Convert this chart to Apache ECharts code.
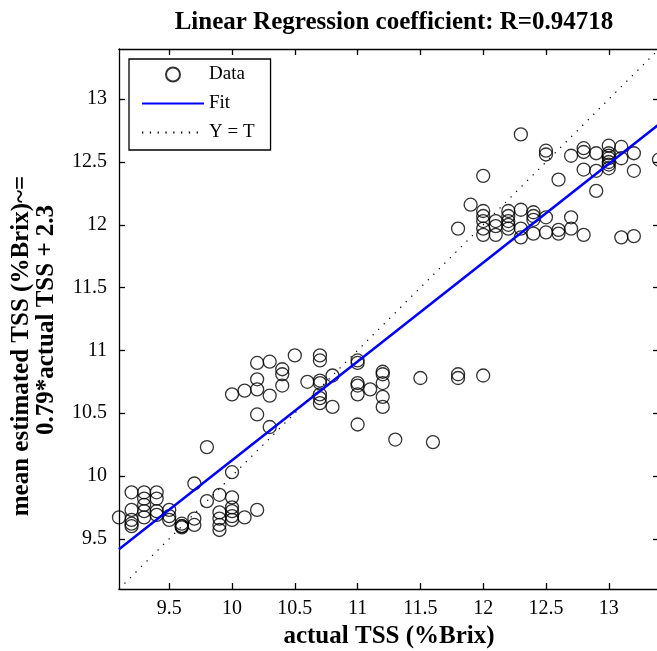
<!DOCTYPE html>
<html><head><meta charset="utf-8">
<script src="https://cdn.jsdelivr.net/npm/echarts@6/dist/echarts.min.js"></script>
<style>html,body{margin:0;padding:0;background:#fff}#c{width:657px;height:651px}</style>
</head><body><div id="c"></div>
<script>
// ---- data ----
const dataX = [
  9.1,
  9.2, 9.2, 9.2, 9.2, 9.2,
  9.3, 9.3, 9.3, 9.3, 9.3,
  9.4, 9.4, 9.4, 9.4,
  9.5, 9.5, 9.5,
  9.6, 9.6, 9.6, 9.6,
  9.7, 9.7, 9.7,
  9.8, 9.8,
  9.9, 9.9, 9.9, 9.9, 9.9,
  10.0, 10.0, 10.0, 10.0, 10.0, 10.0,
  10.1, 10.2,
  10.0, 10.1,
  10.2, 10.2, 10.2, 10.2,
  10.3, 10.3, 10.3,
  10.4, 10.4, 10.4,
  10.5, 10.6,
  10.7, 10.7, 10.7, 10.7, 10.7, 10.7, 10.7,
  10.8, 10.8,
  11.0, 11.0, 11.0, 11.0, 11.0, 11.0,
  11.1,
  11.2, 11.2, 11.2, 11.2, 11.2,
  11.3, 11.5, 11.6, 11.8, 11.8, 12.0,
  11.8, 11.9,
  12.0, 12.0, 12.0, 12.0, 12.0, 12.0,
  12.1, 12.1, 12.1,
  12.2, 12.2, 12.2, 12.2, 12.2,
  12.3, 12.3, 12.3, 12.3,
  12.4, 12.4, 12.4, 12.4,
  12.5, 12.5, 12.5, 12.5,
  12.6, 12.6, 12.6,
  12.7, 12.7, 12.7,
  12.8, 12.8, 12.8, 12.8,
  12.9, 12.9, 12.9,
  13.0, 13.0, 13.0, 13.0, 13.0, 13.0, 13.0,
  13.1, 13.1, 13.1,
  13.2, 13.2, 13.2,
  13.4
];
const dataY = [
  9.67,
  9.87, 9.73, 9.65, 9.62, 9.60,
  9.87, 9.82, 9.77, 9.72, 9.67,
  9.87, 9.82, 9.72, 9.69,
  9.73, 9.68, 9.65,
  9.62, 9.60, 9.59, 9.60,
  9.94, 9.66, 9.61,
  10.23, 9.80,
  9.85, 9.71, 9.66, 9.61, 9.57,
  10.03, 9.83, 9.75, 9.72, 9.68, 9.65,
  9.67, 9.73,
  10.65, 10.68,
  10.90, 10.77, 10.69, 10.49,
  10.91, 10.64, 10.39,
  10.85, 10.81, 10.72,
  10.96, 10.75,
  10.96, 10.92, 10.76, 10.74, 10.65, 10.62, 10.58,
  10.80, 10.55,
  10.92, 10.90, 10.74, 10.72, 10.65, 10.41,
  10.69,
  10.83, 10.81, 10.74, 10.63, 10.55,
  10.29, 10.78, 10.27, 10.81, 10.78, 10.80,
  11.97, 12.16,
  12.39, 12.11, 12.07, 12.03, 11.97, 11.92,
  12.03, 11.99, 11.92,
  12.11, 12.07, 12.03, 12.00, 11.97,
  12.72, 12.12, 11.97, 11.90,
  12.10, 12.07, 12.04, 11.93,
  12.59, 12.56, 12.06, 11.94,
  12.36, 11.96, 11.93,
  12.55, 12.06, 11.97,
  12.61, 12.58, 12.44, 11.92,
  12.57, 12.43, 12.27,
  12.63, 12.57, 12.55, 12.53, 12.50, 12.48, 12.45,
  12.62, 12.53, 11.90,
  12.57, 12.43, 11.91,
  12.52
];
const fitSlope = 0.787;
const fitIntercept = 2.255;
const axisMin = 9.1;
const axisMax = 13.4;
const tickValues = [9.5, 10, 10.5, 11, 11.5, 12, 12.5, 13];
const titleText = 'Linear Regression coefficient: R=0.94718';
const xName = 'actual TSS (%Brix)';
const yNameLines = ['mean estimated TSS (%Brix)~=', '0.79*actual TSS + 2.3'];
const seriesNames = ['Data', 'Fit', 'Y = T'];

// ---- build ----
const FONT = '"Liberation Serif", "Times New Roman", serif';
const points = dataX.map((x, i) => [x, dataY[i]]);
const fitLine = [axisMin, axisMax].map(x => [x, fitSlope * x + fitIntercept]);
const identLine = [axisMin, axisMax].map(x => [x, x]);

const axisCommon = {
  type: 'value', min: axisMin, max: axisMax,
  axisLine: { show: true, onZero: false, lineStyle: { color: '#000', width: 1.3 } },
  axisTick: { show: true, inside: true, length: 6, customValues: tickValues, lineStyle: { color: '#000', width: 1.3 } },
  splitLine: { show: false }
};
const labelStyle = { customValues: tickValues, fontFamily: FONT, fontSize: 20, color: '#000' };

const chart = echarts.init(document.getElementById('c'), null, { renderer: 'canvas' });
chart.setOption({
  backgroundColor: '#fff',
  animation: false,
  title: {
    text: titleText, left: 389, textAlign: 'center', top: 5,
    textStyle: { fontFamily: FONT, fontWeight: 'bold', fontSize: 25, color: '#000' }
  },
  grid: { left: 119, top: 49, width: 540, height: 540, containLabel: false, outerBoundsMode: 'none' },
  legend: {
    orient: 'vertical', left: 129, top: 59,
    padding: [6, 16, 8, 12], itemGap: 10, itemWidth: 62, itemHeight: 14,
    borderColor: '#000', borderWidth: 1.3, backgroundColor: '#fff',
    textStyle: { fontFamily: FONT, fontSize: 19, color: '#000' },
    data: [
      { name: seriesNames[0] },
      { name: seriesNames[1], itemStyle: { opacity: 0 } },
      { name: seriesNames[2], itemStyle: { opacity: 0 } }
    ]
  },
  xAxis: [
    Object.assign({}, axisCommon, {
      position: 'bottom',
      axisLabel: Object.assign({ margin: 10 }, labelStyle),
      name: xName, nameLocation: 'middle', nameGap: 33,
      nameTextStyle: { fontFamily: FONT, fontWeight: 'bold', fontSize: 25, color: '#000' }
    }),
    Object.assign({}, axisCommon, { position: 'top', axisLabel: { show: false } })
  ],
  yAxis: [
    Object.assign({}, axisCommon, {
      position: 'left',
      axisLabel: Object.assign({ margin: 12 }, labelStyle)
    }),
    Object.assign({}, axisCommon, { position: 'right', axisLabel: { show: false } })
  ],
  graphic: [
    { type: 'text', x: 22, y: 346, rotation: Math.PI / 2,
      style: { text: yNameLines[0], font: 'bold 25px ' + FONT, fill: '#000', textAlign: 'center', textVerticalAlign: 'middle' } },
    { type: 'text', x: 47, y: 320, rotation: Math.PI / 2,
      style: { text: yNameLines[1], font: 'bold 25px ' + FONT, fill: '#000', textAlign: 'center', textVerticalAlign: 'middle' } }
  ],
  series: [
    { name: seriesNames[0], type: 'scatter', data: points, symbol: 'circle', symbolSize: 13,
      itemStyle: { color: 'rgba(0,0,0,0)', borderColor: '#000', borderWidth: 1.3 } },
    { name: seriesNames[1], type: 'line', data: fitLine, symbol: 'none', showSymbol: false,
      lineStyle: { color: '#0000ff', width: 2.5 }, itemStyle: { color: '#0000ff' } },
    { name: seriesNames[2], type: 'line', data: identLine, symbol: 'none', showSymbol: false,
      lineStyle: { color: '#000', width: 1.2, type: [1.3, 6.5] }, itemStyle: { color: '#000' } }
  ]
});
</script></body></html>
